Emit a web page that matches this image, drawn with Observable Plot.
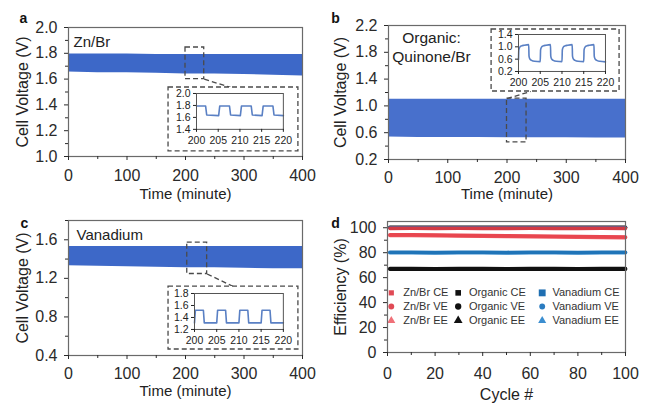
<!DOCTYPE html>
<html><head><meta charset="utf-8">
<script src="https://cdn.jsdelivr.net/npm/d3@7"></script>
<script src="https://cdn.jsdelivr.net/npm/@observablehq/plot@0.6"></script>
<style>
body{margin:0;background:#fff;}
#fig{position:relative;width:648px;height:403px;overflow:hidden;background:#fff;}
</style></head><body><div id="fig"></div><script>
// ---------------- DATA ----------------
// long-run voltage envelopes (minute grid)
const timeGrid = [0, 50, 100, 150, 200, 250, 300, 350, 400];
const znbrHigh = [1.795, 1.795, 1.795, 1.79, 1.79, 1.79, 1.79, 1.79, 1.79];
const znbrLow  = [1.655, 1.65, 1.65, 1.645, 1.64, 1.64, 1.635, 1.63, 1.625];
const orgHigh  = [1.10, 1.10, 1.10, 1.10, 1.10, 1.10, 1.10, 1.10, 1.10];
const orgLow   = [0.535, 0.53, 0.53, 0.53, 0.525, 0.525, 0.525, 0.52, 0.52];
const vanHigh  = [1.53, 1.53, 1.53, 1.53, 1.53, 1.53, 1.53, 1.53, 1.53];
const vanLow   = [1.33, 1.325, 1.32, 1.315, 1.31, 1.31, 1.305, 1.30, 1.30];

// zoomed 200-220 min traces
const znbrZoomT = [200, 202.1, 202.35, 205.1, 205.35, 207.6, 207.85, 210.1, 210.35, 212.6, 212.85, 215.1, 215.35, 217.6, 217.85, 220];
const znbrZoomV = [1.79, 1.79, 1.64, 1.63, 1.79, 1.79, 1.64, 1.63, 1.79, 1.79, 1.64, 1.63, 1.79, 1.79, 1.64, 1.63];
const orgZoomT = [200, 200.08, 200.3, 200.7, 201.3, 202.35, 202.42, 202.6, 203.0, 203.7,
                  205.0, 205.08, 205.3, 205.7, 206.3, 207.35, 207.42, 207.6, 208.0, 208.7,
                  210.0, 210.08, 210.3, 210.7, 211.3, 212.35, 212.42, 212.6, 213.0, 213.7,
                  215.0, 215.08, 215.3, 215.7, 216.3, 217.35, 217.42, 217.6, 218.0, 218.7, 220];
const orgZoomV = [0.58, 0.90, 0.99, 1.03, 1.05, 1.07, 0.70, 0.61, 0.56, 0.53,
                  0.52, 0.90, 0.99, 1.03, 1.05, 1.07, 0.70, 0.61, 0.56, 0.53,
                  0.52, 0.90, 0.99, 1.03, 1.05, 1.07, 0.70, 0.61, 0.56, 0.53,
                  0.52, 0.90, 0.99, 1.03, 1.05, 1.07, 0.70, 0.61, 0.56, 0.53, 0.51];
const vanZoomT = [200, 200.2, 202.0, 202.2, 205.0, 205.2, 207.0, 207.2, 210.0, 210.2, 212.0, 212.2, 215.0, 215.2, 217.0, 217.2, 220];
const vanZoomV = [1.31, 1.52, 1.52, 1.31, 1.31, 1.52, 1.52, 1.31, 1.31, 1.52, 1.52, 1.31, 1.31, 1.52, 1.52, 1.31, 1.31];

// efficiency vs cycle
const cycles = [1, 10, 20, 30, 40, 50, 60, 70, 80, 90, 100];
const znbrCE = [99.5, 99.6, 99.5, 99.6, 99.5, 99.5, 99.6, 99.5, 99.5, 99.6, 99.5];
const znbrVE = [94.3, 94.4, 94.2, 93.9, 93.7, 93.5, 93.4, 93.2, 93.0, 92.8, 92.6];
const znbrEE = [93.8, 93.9, 93.7, 93.4, 93.2, 93.0, 92.9, 92.7, 92.5, 92.3, 92.1];
const orgCE  = [100.3, 100.3, 100.3, 100.3, 100.3, 100.3, 100.3, 100.3, 100.3, 100.3, 100.3];
const orgVE  = [67.2, 67.2, 67.1, 67.2, 67.2, 67.1, 67.2, 67.2, 67.1, 67.2, 67.2];
const orgEE  = [66.8, 66.8, 66.7, 66.8, 66.8, 66.7, 66.8, 66.8, 66.7, 66.8, 66.8];
const vanCE  = [99.9, 99.9, 99.9, 99.9, 99.9, 99.9, 99.9, 99.9, 99.9, 99.9, 99.9];
const vanVE  = [80.3, 80.3, 80.2, 80.3, 80.3, 80.2, 80.3, 80.3, 80.2, 80.3, 80.3];
const vanEE  = [79.9, 79.9, 79.8, 79.9, 79.9, 79.8, 79.9, 79.9, 79.8, 79.9, 79.9];

const legendLabels = ["Zn/Br CE", "Zn/Br VE", "Zn/Br EE", "Organic CE", "Organic VE", "Organic EE", "Vanadium CE", "Vanadium VE", "Vanadium EE"];

// tick labels
const timeTicks = [0, 100, 200, 300, 400];
const timeMinor = [50, 150, 250, 350];
const zoomTicks = [200, 205, 210, 215, 220];
const aTicks = [1.0, 1.2, 1.4, 1.6, 1.8, 2.0];
const aMinor = [1.1, 1.3, 1.5, 1.7, 1.9];
const bTicks = [0.2, 0.6, 1.0, 1.4, 1.8, 2.2];
const bMinor = [0.4, 0.8, 1.2, 1.6, 2.0];
const cTicks = [0.4, 0.8, 1.2, 1.6];
const cMinor = [0.6, 1.0, 1.4, 1.8];
const aZoomTicks = [1.4, 1.6, 1.8, 2.0];
const bZoomTicks = [0.2, 0.6, 1.0, 1.4];
const cZoomTicks = [1.2, 1.4, 1.6, 1.8];
const cycleTicks = [0, 20, 40, 60, 80, 100];
const cycleMinor = [10, 30, 50, 70, 90];
const effTicks = [0, 20, 40, 60, 80, 100];
const effMinor = [10, 30, 50, 70, 90];

// zoom windows & inset boxes (data coordinates of main panel)
const aZoomBox = {x1: 200, x2: 232, y1: 1.60, y2: 1.845};
const aInsetBox = {x1: 171, x2: 393, y1: 1.04, y2: 1.535};
const aLink = {x1: 232, y1: 1.60, x2: 277, y2: 1.535};
const bZoomBox = {x1: 200, x2: 233, y1: 0.455, y2: 1.11};
const bInsetBox = {x1: 174, x2: 390, y1: 1.215, y2: 2.14};
const bLink = {x1: 200, y1: 1.11, x2: 240, y2: 1.215};
const cZoomBox = {x1: 203, x2: 237, y1: 1.245, y2: 1.57};
const cInsetBox = {x1: 171, x2: 393, y1: 0.462, y2: 1.115};
const cLink = {x1: 237, y1: 1.245, x2: 282, y2: 1.115};

// ---------------- DRAWING ----------------
const FONT = '"Liberation Sans", Arial, Helvetica, sans-serif';
const fig = document.getElementById("fig");
const f1 = d3.format(".1f");
const BLUE = "#3d68c8";

function place(el, left, top) {
  el.style.position = "absolute";
  el.style.left = left + "px";
  el.style.top = top + "px";
  fig.appendChild(el);
}
const zip = (t, lo, hi) => t.map((d, i) => ({t: d, low: lo[i], high: hi[i]}));
const pairs = (t, v) => t.map((d, i) => ({t: d, v: v[i]}));

function axes(xT, xM, yT, yM, xPad, yFmt, xFmt) {
  return [
    Plot.axisX(xT, {tickSize: 4, tickPadding: xPad, fontSize: 16, color: "#2a2a2a", label: null, tickFormat: xFmt}),
    Plot.axisX(xM, {tickSize: 3, fontSize: 16, color: "#2a2a2a", label: null, tickFormat: () => ""}),
    Plot.axisY(yT, {tickSize: 4, tickPadding: 7, fontSize: 16, color: "#2a2a2a", label: null, tickFormat: yFmt}),
    Plot.axisY(yM, {tickSize: 3, fontSize: 16, color: "#2a2a2a", label: null, tickFormat: () => ""})
  ];
}

function makePanel(cfg) {
  const {left, top, width, height, m, xDomain, yDomain} = cfg;
  const fx = v => m[0] + (v - xDomain[0]) / (xDomain[1] - xDomain[0]) * (width - m[0] - m[1]);
  const fy = v => m[2] + (yDomain[1] - v) / (yDomain[1] - yDomain[0]) * (height - m[2] - m[3]);
  const p = Plot.plot({
    width, height,
    marginLeft: m[0], marginRight: m[1], marginTop: m[2], marginBottom: m[3],
    style: {fontFamily: FONT, background: "transparent", overflow: "visible", color: "#222"},
    x: {domain: xDomain, axis: null},
    y: {domain: yDomain, axis: null},
    marks: [
      ...cfg.marks,
      Plot.frame({stroke: "#6a6a6a", strokeWidth: 1.2}),
      ...axes(cfg.xTicks, cfg.xMinor, cfg.yTicks, cfg.yMinor, cfg.xPad, cfg.yFmt, cfg.xFmt),
      Plot.text([cfg.ylabel], {frameAnchor: "left", rotate: -90, dx: cfg.ylabelX - (left + m[0]), fontSize: 16, fill: "#222", textAnchor: "middle", lineAnchor: "middle"}),
      Plot.text([cfg.xlabel], {frameAnchor: "bottom", dy: cfg.xlabelY - (top + height - m[3]), fontSize: cfg.xlabelSize, fill: "#222", textAnchor: "middle", lineAnchor: "middle"}),
      Plot.text([cfg.letter], {frameAnchor: "top-left", dx: cfg.letterPos[0] - (left + m[0]), dy: cfg.letterPos[1] - (top + m[2]), fontSize: 14, fontWeight: "bold", fill: "#111", textAnchor: "middle", lineAnchor: "middle"})
    ]
  });
  place(p, left, top);
  return {fx, fy, left, top};
}

function makeInset(panel, box, yDomain, yTicks, data, m, curve) {
  const left = panel.left + panel.fx(box.x1);
  const top = panel.top + panel.fy(box.y2);
  const width = panel.fx(box.x2) - panel.fx(box.x1);
  const height = panel.fy(box.y1) - panel.fy(box.y2);
  const p = Plot.plot({
    width, height,
    marginLeft: m[0], marginRight: m[1], marginTop: m[2], marginBottom: m[3],
    style: {fontFamily: FONT, background: "transparent", overflow: "visible"},
    x: {domain: [200, 220], axis: null},
    y: {domain: yDomain, axis: null},
    marks: [
      Plot.line(data, {x: "t", y: "v", stroke: "#5a80c4", strokeWidth: 1.6, curve}),
      Plot.frame({stroke: "#555", strokeWidth: 1}),
      Plot.axisX(zoomTicks, {tickSize: 3, tickPadding: 4, fontSize: 10.5, color: "#222", label: null}),
      Plot.axisY(yTicks, {tickSize: 3, tickPadding: 3, fontSize: 10.5, color: "#222", label: null, tickFormat: f1})
    ]
  });
  place(p, left, top);
}

const dashed = {stroke: "#4a4a4a", strokeWidth: 1.3, strokeDasharray: "5,3"};

// Panel a
const pa = makePanel({
  left: 0, top: 0, width: 320, height: 200, m: [68, 18, 27, 44],
  xDomain: [0, 400], yDomain: [1.0, 2.0],
  xTicks: timeTicks, xMinor: timeMinor, yTicks: aTicks, yMinor: aMinor, xPad: 9, yFmt: f1,
  ylabel: "Cell Voltage (V)", ylabelX: 22, xlabel: "Time (minute)", xlabelY: 194, xlabelSize: 15,
  letter: "a", letterPos: [23, 18],
  marks: [
    Plot.areaY(zip(timeGrid, znbrLow, znbrHigh), {x: "t", y1: "low", y2: "high", fill: BLUE}),
    Plot.rect([aZoomBox], {x1: "x1", x2: "x2", y1: "y1", y2: "y2", fill: "none", ...dashed}),
    Plot.link([aLink], {x1: "x1", y1: "y1", x2: "x2", y2: "y2", ...dashed}),
    Plot.rect([aInsetBox], {x1: "x1", x2: "x2", y1: "y1", y2: "y2", fill: "white", ...dashed}),
    Plot.text(["Zn/Br"], {frameAnchor: "top-left", dx: 5, dy: 15, fontSize: 15, fill: "#222", textAnchor: "start", lineAnchor: "middle"})
  ]
});
makeInset(pa, aInsetBox, [1.4, 2.0], aZoomTicks, pairs(znbrZoomT, znbrZoomV), [28, 15, 6, 22], "linear");

// Panel b
const pb = makePanel({
  left: 320, top: 0, width: 328, height: 200, m: [68, 23, 25, 41],
  xDomain: [0, 400], yDomain: [0.2, 2.2],
  xTicks: timeTicks, xMinor: timeMinor, yTicks: bTicks, yMinor: bMinor, xPad: 8, yFmt: f1,
  ylabel: "Cell Voltage (V)", ylabelX: 340, xlabel: "Time (minute)", xlabelY: 194, xlabelSize: 15,
  letter: "b", letterPos: [335, 18],
  marks: [
    Plot.areaY(zip(timeGrid, orgLow, orgHigh), {x: "t", y1: "low", y2: "high", fill: "#4870cc"}),
    Plot.rect([bZoomBox], {x1: "x1", x2: "x2", y1: "y1", y2: "y2", fill: "none", ...dashed}),
    Plot.link([bLink], {x1: "x1", y1: "y1", x2: "x2", y2: "y2", ...dashed}),
    Plot.rect([bInsetBox], {x1: "x1", x2: "x2", y1: "y1", y2: "y2", fill: "white", ...dashed}),
    Plot.text(["Organic:\nQuinone/Br"], {frameAnchor: "top-left", dx: 43, dy: 21, fontSize: 15.5, lineHeight: 1.2, fill: "#222", textAnchor: "middle", lineAnchor: "middle"})
  ]
});
makeInset(pb, bInsetBox, [0.2, 1.4], bZoomTicks, pairs(orgZoomT, orgZoomV), [27, 14, 5, 20], "monotone-x");

// Panel c
const pc = makePanel({
  left: 0, top: 200, width: 320, height: 203, m: [68, 18, 20, 48],
  xDomain: [0, 400], yDomain: [0.4, 1.8],
  xTicks: timeTicks, xMinor: timeMinor, yTicks: cTicks, yMinor: cMinor, xPad: 8, yFmt: f1,
  ylabel: "Cell Voltage (V)", ylabelX: 22, xlabel: "Time (minute)", xlabelY: 391, xlabelSize: 15,
  letter: "c", letterPos: [24, 223],
  marks: [
    Plot.areaY(zip(timeGrid, vanLow, vanHigh), {x: "t", y1: "low", y2: "high", fill: BLUE}),
    Plot.rect([cZoomBox], {x1: "x1", x2: "x2", y1: "y1", y2: "y2", fill: "none", ...dashed}),
    Plot.link([cLink], {x1: "x1", y1: "y1", x2: "x2", y2: "y2", ...dashed}),
    Plot.rect([cInsetBox], {x1: "x1", x2: "x2", y1: "y1", y2: "y2", fill: "white", ...dashed}),
    Plot.text(["Vanadium"], {frameAnchor: "top-left", dx: 8, dy: 15, fontSize: 15, fill: "#222", textAnchor: "start", lineAnchor: "middle"})
  ]
});
makeInset(pc, cInsetBox, [1.2, 1.8], cZoomTicks, pairs(vanZoomT, vanZoomV), [26, 15, 7, 20], "linear");

// Panel d
const seriesD = [
  {v: orgCE, c: "#111111"}, {v: vanCE, c: "#1f6fb2"}, {v: znbrCE, c: "#d23a44"},
  {v: znbrEE, c: "#ef5a62"}, {v: znbrVE, c: "#e8464f"},
  {v: vanEE, c: "#3b8ed0"}, {v: vanVE, c: "#1f74b8"},
  {v: orgEE, c: "#111111"}, {v: orgVE, c: "#111111"}
];
const legendColors = ["#e04a55", "#e04a55", "#f07078", "#111", "#111", "#111", "#1f6fb2", "#2b7cc0", "#3b8ed0"];
const legendSymbols = ["square", "circle", "triangle", "square", "circle", "triangle", "square", "circle", "triangle"];
const legendSizes = [1.7, 1.7, 1.8, 2.0, 2.0, 2.1, 3.0, 1.7, 1.8];
// legend layout (in panel d axes units)
const legMarkX = [1.6, 29.7, 65];
const legTextX = [6.6, 34.2, 69.3];
const legRowY = [47.8, 36.9, 25.6];
const legend = legendLabels.map((label, i) => ({
  label, color: legendColors[i], sym: legendSymbols[i], r: legendSizes[i],
  mx: legMarkX[Math.floor(i / 3)], tx: legTextX[Math.floor(i / 3)], y: legRowY[i % 3]
}));

makePanel({
  left: 320, top: 200, width: 328, height: 203, m: [67, 23, 21, 51],
  xDomain: [0, 100], yDomain: [0, 105],
  xTicks: cycleTicks, xMinor: cycleMinor, yTicks: effTicks, yMinor: effMinor, xPad: 11, yFmt: d3.format("d"), xFmt: d3.format("d"),
  ylabel: "Efficiency (%)", ylabelX: 340, xlabel: "Cycle #", xlabelY: 394, xlabelSize: 16,
  letter: "d", letterPos: [335, 223],
  marks: [
    ...seriesD.map(s => Plot.line(cycles.map((c, i) => ({c, v: s.v[i]})), {x: "c", y: "v", stroke: s.c, strokeWidth: 3.6})),
    ...["square", "circle", "triangle"].map(sym =>
      Plot.dot(legend.filter(d => d.sym === sym), {x: "mx", y: "y", r: "r", fill: "color", symbol: sym})),
    Plot.text(legend, {x: "tx", y: "y", text: "label", fontSize: 11, fill: "#333", textAnchor: "start", lineAnchor: "middle"})
  ]
});
</script></body></html>
